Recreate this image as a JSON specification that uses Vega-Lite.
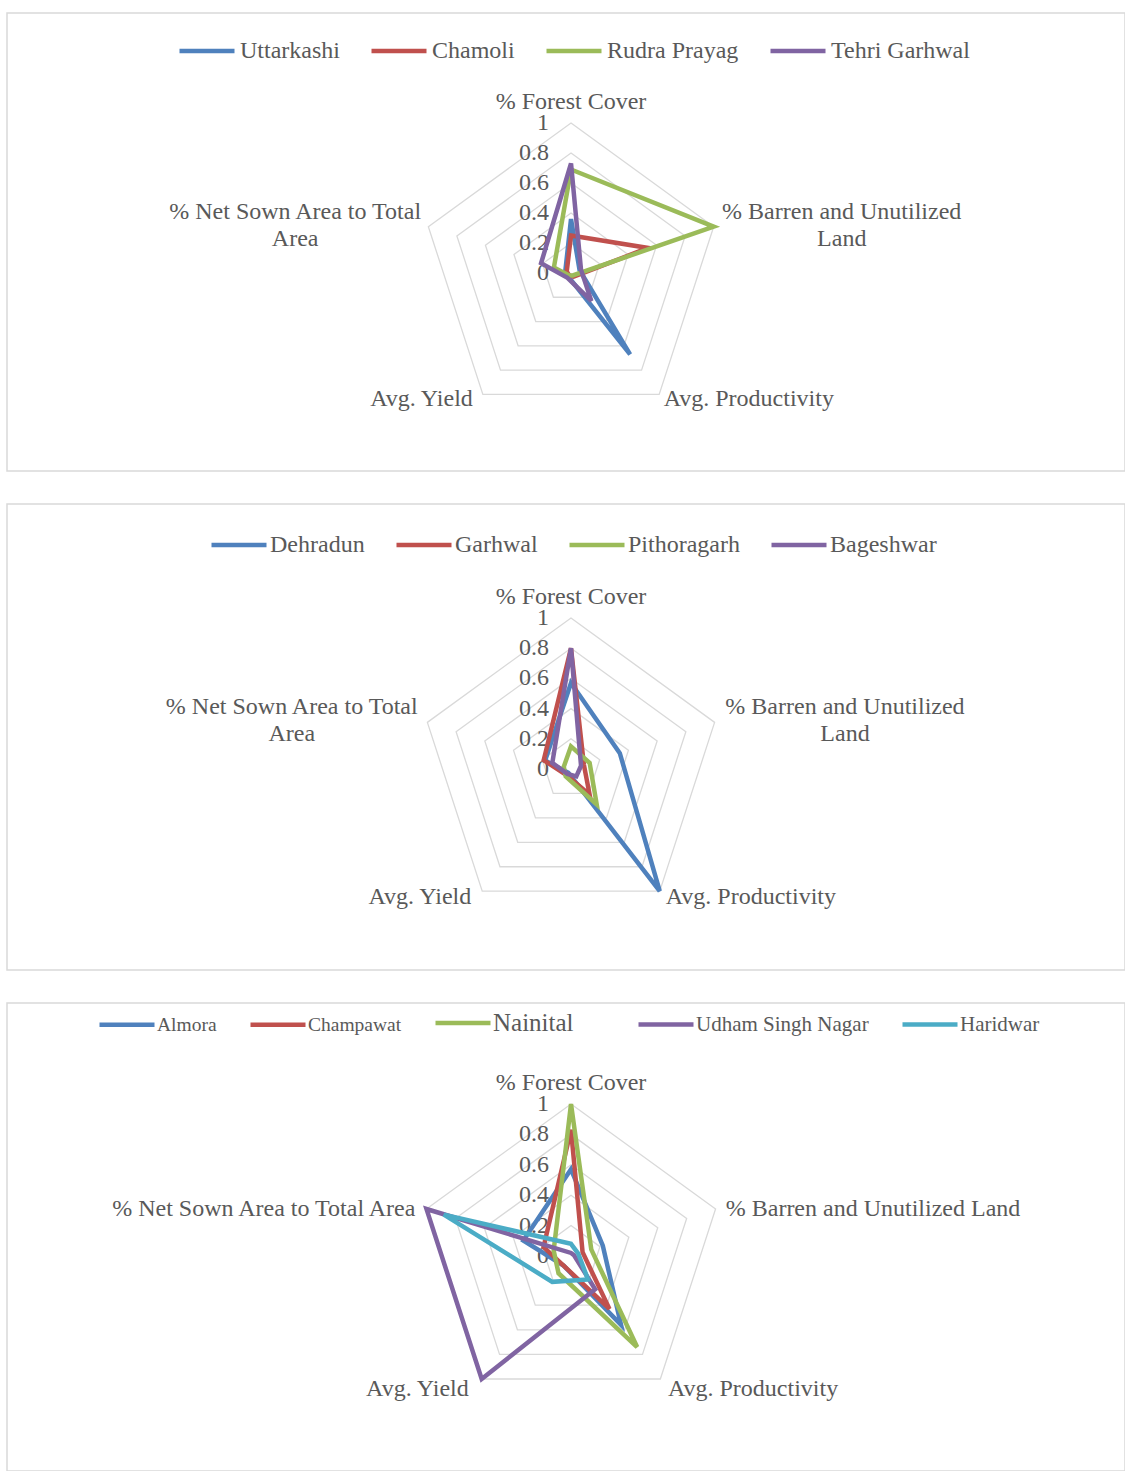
{
  "$schema": "https://vega.github.io/schema/vega-lite/v6.json",
  "padding": {"left": 6, "top": 12, "right": 0, "bottom": 0},
  "bounds": "flush",
  "config": {
    "view": {"stroke": "#d9d9d9", "strokeWidth": 1.5},
    "font": "Liberation Serif",
    "text": {"font": "Liberation Serif", "fontSize": 24, "color": "#595959", "lineHeight": 27}
  },
  "datasets": {
    "grid": [
      {"level": 0.2, "k": [0, 1, 2, 3, 4]},
      {"level": 0.4, "k": [0, 1, 2, 3, 4]},
      {"level": 0.6, "k": [0, 1, 2, 3, 4]},
      {"level": 0.8, "k": [0, 1, 2, 3, 4]},
      {"level": 1.0, "k": [0, 1, 2, 3, 4]}
    ],
    "ticks": [{"v": 0}, {"v": 0.2}, {"v": 0.4}, {"v": 0.6}, {"v": 0.8}, {"v": 1}],
    "axesTwoLine": [
      {"k": 0, "lines": ["% Forest Cover"]},
      {"k": 1, "lines": ["% Barren and Unutilized", "Land"]},
      {"k": 2, "lines": ["Avg. Productivity"]},
      {"k": 3, "lines": ["Avg. Yield"]},
      {"k": 4, "lines": ["% Net Sown Area to Total", "Area"]}
    ],
    "axesOneLine": [
      {"k": 0, "lines": ["% Forest Cover"]},
      {"k": 1, "lines": ["% Barren and Unutilized Land"]},
      {"k": 2, "lines": ["Avg. Productivity"]},
      {"k": 3, "lines": ["Avg. Yield"]},
      {"k": 4, "lines": ["% Net Sown Area to Total Area"]}
    ],
    "d1": [
      {"district": "Uttarkashi", "forest": 0.36, "barren": 0.06, "productivity": 0.67, "yield": 0.03, "netsown": 0.04},
      {"district": "Chamoli", "forest": 0.25, "barren": 0.54, "productivity": 0.03, "yield": 0.02, "netsown": 0.03},
      {"district": "Rudra Prayag", "forest": 0.69, "barren": 1.0, "productivity": 0.02, "yield": 0.02, "netsown": 0.12},
      {"district": "Tehri Garhwal", "forest": 0.73, "barren": 0.07, "productivity": 0.23, "yield": 0.04, "netsown": 0.21}
    ],
    "d2": [
      {"district": "Dehradun", "forest": 0.57, "barren": 0.34, "productivity": 1.0, "yield": 0.03, "netsown": 0.18},
      {"district": "Garhwal", "forest": 0.8, "barren": 0.09, "productivity": 0.21, "yield": 0.05, "netsown": 0.19},
      {"district": "Pithoragarh", "forest": 0.15, "barren": 0.13, "productivity": 0.29, "yield": 0.06, "netsown": 0.05},
      {"district": "Bageshwar", "forest": 0.8, "barren": 0.07, "productivity": 0.06, "yield": 0.04, "netsown": 0.13}
    ],
    "d3": [
      {"district": "Almora", "forest": 0.57, "barren": 0.22, "productivity": 0.56, "yield": 0.08, "netsown": 0.33},
      {"district": "Champawat", "forest": 0.83, "barren": 0.08, "productivity": 0.43, "yield": 0.08, "netsown": 0.19},
      {"district": "Nainital", "forest": 1.0, "barren": 0.14, "productivity": 0.74, "yield": 0.14, "netsown": 0.12},
      {"district": "Udham Singh Nagar", "forest": 0.02, "barren": 0.02, "productivity": 0.27, "yield": 1.0, "netsown": 1.0},
      {"district": "Haridwar", "forest": 0.08, "barren": 0.05, "productivity": 0.19, "yield": 0.21, "netsown": 0.88}
    ]
  },
  "vconcat": [
    {
      "width": 1118, "height": 458,
      "layer": [
        {
          "data": {"name": "grid"},
          "transform": [
            {"flatten": ["k"]},
            {"calculate": "PI/2 - datum.k*2*PI/5", "as": "a"},
            {"calculate": "datum.level*cos(datum.a)", "as": "gx"},
            {"calculate": "datum.level*sin(datum.a)", "as": "gy"}
          ],
          "mark": {"type": "line", "interpolate": "linear-closed", "stroke": "#d9d9d9", "strokeWidth": 1.3},
          "encoding": {
            "x": {"field": "gx", "type": "quantitative", "scale": {"domain": [-3.76, 3.693], "nice": false, "zero": false}, "axis": null},
            "y": {"field": "gy", "type": "quantitative", "scale": {"domain": [-1.32, 1.7333], "nice": false, "zero": false}, "axis": null},
            "detail": {"field": "level"},
            "order": {"field": "k", "type": "quantitative"}
          }
        },
        {
          "data": {"name": "ticks"},
          "mark": {"type": "text", "align": "right", "baseline": "middle", "dx": -22},
          "encoding": {
            "x": {"datum": 0, "type": "quantitative"},
            "y": {"field": "v", "type": "quantitative"},
            "text": {"field": "v", "type": "quantitative", "format": "~g"}
          }
        },
        {
          "data": {"name": "axesTwoLine"},
          "transform": [
            {"filter": "datum.k==0 || datum.k==1 || datum.k==4"},
            {"calculate": "PI/2 - datum.k*2*PI/5", "as": "a"},
            {"calculate": "datum.k==0 ? 0 : cos(datum.a) + (cos(datum.a)>0?1:-1)*(0.06 + length(datum.lines[0])*0.0345)", "as": "lx"},
            {"calculate": "datum.k==0 ? 1.14 : sin(datum.a) + (length(datum.lines)-1)*0.1", "as": "ly"}
          ],
          "mark": {"type": "text", "align": "center", "baseline": "middle"},
          "encoding": {
            "x": {"field": "lx", "type": "quantitative"},
            "y": {"field": "ly", "type": "quantitative"},
            "text": {"field": "lines"}
          }
        },
        {
          "data": {"name": "axesTwoLine"},
          "transform": [
            {"filter": "datum.k==2"},
            {"calculate": "PI/2 - datum.k*2*PI/5", "as": "a"},
            {"calculate": "cos(datum.a) + 0.03", "as": "lx"},
            {"calculate": "sin(datum.a) - 0.03", "as": "ly"}
          ],
          "mark": {"type": "text", "align": "left", "baseline": "middle"},
          "encoding": {
            "x": {"field": "lx", "type": "quantitative"},
            "y": {"field": "ly", "type": "quantitative"},
            "text": {"field": "lines"}
          }
        },
        {
          "data": {"name": "axesTwoLine"},
          "transform": [
            {"filter": "datum.k==3"},
            {"calculate": "PI/2 - datum.k*2*PI/5", "as": "a"},
            {"calculate": "cos(datum.a) - 0.067", "as": "lx"},
            {"calculate": "sin(datum.a) - 0.03", "as": "ly"}
          ],
          "mark": {"type": "text", "align": "right", "baseline": "middle"},
          "encoding": {
            "x": {"field": "lx", "type": "quantitative"},
            "y": {"field": "ly", "type": "quantitative"},
            "text": {"field": "lines"}
          }
        },
        {
          "data": {"name": "d1"},
          "transform": [
            {"fold": ["forest", "barren", "productivity", "yield", "netsown"]},
            {"calculate": "indexof(['forest','barren','productivity','yield','netsown'], datum.key)", "as": "k"},
            {"calculate": "PI/2 - datum.k*2*PI/5", "as": "a"},
            {"calculate": "datum.value*cos(datum.a)", "as": "px"},
            {"calculate": "datum.value*sin(datum.a)", "as": "py"}
          ],
          "mark": {"type": "line", "interpolate": "linear-closed", "strokeWidth": 4.5},
          "encoding": {
            "x": {"field": "px", "type": "quantitative"},
            "y": {"field": "py", "type": "quantitative"},
            "order": {"field": "k", "type": "quantitative"},
            "color": {
              "field": "district", "type": "nominal",
              "scale": {"domain": ["Uttarkashi", "Chamoli", "Rudra Prayag", "Tehri Garhwal"], "range": ["#4F81BD", "#C0504D", "#9BBB59", "#8064A2"]},
              "legend": {
                "title": null, "orient": "none", "direction": "horizontal", "legendX": 170, "legendY": 8,
                "symbolType": "stroke", "symbolSize": 3025, "symbolStrokeWidth": 4.5, "padding": 0,
                "labelFont": "Liberation Serif", "labelFontSize": 24, "labelColor": "#595959", "labelOffset": 3, "columnPadding": 22, "labelLimit": 300
              }
            }
          }
        }
      ]
    },
    {
      "width": 1118, "height": 466,
      "layer": [
        {
          "data": {"name": "grid"},
          "transform": [
            {"flatten": ["k"]},
            {"calculate": "PI/2 - datum.k*2*PI/5", "as": "a"},
            {"calculate": "datum.level*cos(datum.a)", "as": "gx"},
            {"calculate": "datum.level*sin(datum.a)", "as": "gy"}
          ],
          "mark": {"type": "line", "interpolate": "linear-closed", "stroke": "#d9d9d9", "strokeWidth": 1.3},
          "encoding": {
            "x": {"field": "gx", "type": "quantitative", "scale": {"domain": [-3.735, 3.669], "nice": false, "zero": false}, "axis": null},
            "y": {"field": "gy", "type": "quantitative", "scale": {"domain": [-1.331, 1.755], "nice": false, "zero": false}, "axis": null},
            "detail": {"field": "level"},
            "order": {"field": "k", "type": "quantitative"}
          }
        },
        {
          "data": {"name": "ticks"},
          "mark": {"type": "text", "align": "right", "baseline": "middle", "dx": -22},
          "encoding": {
            "x": {"datum": 0, "type": "quantitative"},
            "y": {"field": "v", "type": "quantitative"},
            "text": {"field": "v", "type": "quantitative", "format": "~g"}
          }
        },
        {
          "data": {"name": "axesTwoLine"},
          "transform": [
            {"filter": "datum.k==0 || datum.k==1 || datum.k==4"},
            {"calculate": "PI/2 - datum.k*2*PI/5", "as": "a"},
            {"calculate": "datum.k==0 ? 0 : cos(datum.a) + (cos(datum.a)>0?1:-1)*(0.07 + length(datum.lines[0])*0.0345)", "as": "lx"},
            {"calculate": "datum.k==0 ? 1.14 : sin(datum.a) + (length(datum.lines)-1)*0.1", "as": "ly"}
          ],
          "mark": {"type": "text", "align": "center", "baseline": "middle"},
          "encoding": {
            "x": {"field": "lx", "type": "quantitative"},
            "y": {"field": "ly", "type": "quantitative"},
            "text": {"field": "lines"}
          }
        },
        {
          "data": {"name": "axesTwoLine"},
          "transform": [
            {"filter": "datum.k==2"},
            {"calculate": "PI/2 - datum.k*2*PI/5", "as": "a"},
            {"calculate": "cos(datum.a) + 0.04", "as": "lx"},
            {"calculate": "sin(datum.a) - 0.04", "as": "ly"}
          ],
          "mark": {"type": "text", "align": "left", "baseline": "middle"},
          "encoding": {
            "x": {"field": "lx", "type": "quantitative"},
            "y": {"field": "ly", "type": "quantitative"},
            "text": {"field": "lines"}
          }
        },
        {
          "data": {"name": "axesTwoLine"},
          "transform": [
            {"filter": "datum.k==3"},
            {"calculate": "PI/2 - datum.k*2*PI/5", "as": "a"},
            {"calculate": "cos(datum.a) - 0.073", "as": "lx"},
            {"calculate": "sin(datum.a) - 0.04", "as": "ly"}
          ],
          "mark": {"type": "text", "align": "right", "baseline": "middle"},
          "encoding": {
            "x": {"field": "lx", "type": "quantitative"},
            "y": {"field": "ly", "type": "quantitative"},
            "text": {"field": "lines"}
          }
        },
        {
          "data": {"name": "d2"},
          "transform": [
            {"fold": ["forest", "barren", "productivity", "yield", "netsown"]},
            {"calculate": "indexof(['forest','barren','productivity','yield','netsown'], datum.key)", "as": "k"},
            {"calculate": "PI/2 - datum.k*2*PI/5", "as": "a"},
            {"calculate": "datum.value*cos(datum.a)", "as": "px"},
            {"calculate": "datum.value*sin(datum.a)", "as": "py"}
          ],
          "mark": {"type": "line", "interpolate": "linear-closed", "strokeWidth": 4.5},
          "encoding": {
            "x": {"field": "px", "type": "quantitative"},
            "y": {"field": "py", "type": "quantitative"},
            "order": {"field": "k", "type": "quantitative"},
            "color": {
              "field": "district", "type": "nominal",
              "scale": {"domain": ["Dehradun", "Garhwal", "Pithoragarh", "Bageshwar"], "range": ["#4F81BD", "#C0504D", "#9BBB59", "#8064A2"]},
              "legend": {
                "title": null, "orient": "none", "direction": "horizontal", "legendX": 202, "legendY": 11,
                "symbolType": "stroke", "symbolSize": 3025, "symbolStrokeWidth": 4.5, "padding": 0,
                "labelFont": "Liberation Serif", "labelFontSize": 24, "labelColor": "#595959", "labelOffset": 1, "columnPadding": 22, "labelLimit": 300
              }
            }
          }
        }
      ]
    },
    {
      "width": 1118, "height": 468,
      "layer": [
        {
          "data": {"name": "grid"},
          "transform": [
            {"flatten": ["k"]},
            {"calculate": "PI/2 - datum.k*2*PI/5", "as": "a"},
            {"calculate": "datum.level*cos(datum.a)", "as": "gx"},
            {"calculate": "datum.level*sin(datum.a)", "as": "gy"}
          ],
          "mark": {"type": "line", "interpolate": "linear-closed", "stroke": "#d9d9d9", "strokeWidth": 1.3},
          "encoding": {
            "x": {"field": "gx", "type": "quantitative", "scale": {"domain": [-3.711, 3.645], "nice": false, "zero": false}, "axis": null},
            "y": {"field": "gy", "type": "quantitative", "scale": {"domain": [-1.414, 1.664], "nice": false, "zero": false}, "axis": null},
            "detail": {"field": "level"},
            "order": {"field": "k", "type": "quantitative"}
          }
        },
        {
          "data": {"name": "ticks"},
          "mark": {"type": "text", "align": "right", "baseline": "middle", "dx": -22},
          "encoding": {
            "x": {"datum": 0, "type": "quantitative"},
            "y": {"field": "v", "type": "quantitative"},
            "text": {"field": "v", "type": "quantitative", "format": "~g"}
          }
        },
        {
          "data": {"name": "axesOneLine"},
          "transform": [
            {"filter": "datum.k==0 || datum.k==1 || datum.k==4"},
            {"calculate": "PI/2 - datum.k*2*PI/5", "as": "a"},
            {"calculate": "datum.k==0 ? 0 : cos(datum.a) + (cos(datum.a)>0?1:-1)*(0.07 + length(datum.lines[0])*0.0345)", "as": "lx"},
            {"calculate": "datum.k==0 ? 1.14 : sin(datum.a)", "as": "ly"}
          ],
          "mark": {"type": "text", "align": "center", "baseline": "middle"},
          "encoding": {
            "x": {"field": "lx", "type": "quantitative"},
            "y": {"field": "ly", "type": "quantitative"},
            "text": {"field": "lines"}
          }
        },
        {
          "data": {"name": "axesOneLine"},
          "transform": [
            {"filter": "datum.k==2"},
            {"calculate": "PI/2 - datum.k*2*PI/5", "as": "a"},
            {"calculate": "cos(datum.a) + 0.05", "as": "lx"},
            {"calculate": "sin(datum.a) - 0.066", "as": "ly"}
          ],
          "mark": {"type": "text", "align": "left", "baseline": "middle"},
          "encoding": {
            "x": {"field": "lx", "type": "quantitative"},
            "y": {"field": "ly", "type": "quantitative"},
            "text": {"field": "lines"}
          }
        },
        {
          "data": {"name": "axesOneLine"},
          "transform": [
            {"filter": "datum.k==3"},
            {"calculate": "PI/2 - datum.k*2*PI/5", "as": "a"},
            {"calculate": "cos(datum.a) - 0.085", "as": "lx"},
            {"calculate": "sin(datum.a) - 0.066", "as": "ly"}
          ],
          "mark": {"type": "text", "align": "right", "baseline": "middle"},
          "encoding": {
            "x": {"field": "lx", "type": "quantitative"},
            "y": {"field": "ly", "type": "quantitative"},
            "text": {"field": "lines"}
          }
        },
        {
          "data": {"name": "d3"},
          "transform": [
            {"fold": ["forest", "barren", "productivity", "yield", "netsown"]},
            {"calculate": "indexof(['forest','barren','productivity','yield','netsown'], datum.key)", "as": "k"},
            {"calculate": "PI/2 - datum.k*2*PI/5", "as": "a"},
            {"calculate": "datum.value*cos(datum.a)", "as": "px"},
            {"calculate": "datum.value*sin(datum.a)", "as": "py"}
          ],
          "mark": {"type": "line", "interpolate": "linear-closed", "strokeWidth": 4.5},
          "encoding": {
            "x": {"field": "px", "type": "quantitative"},
            "y": {"field": "py", "type": "quantitative"},
            "order": {"field": "k", "type": "quantitative"},
            "color": {
              "field": "district", "type": "nominal",
              "scale": {"domain": ["Almora", "Champawat", "Nainital", "Udham Singh Nagar", "Haridwar"], "range": ["#4F81BD", "#C0504D", "#9BBB59", "#8064A2", "#4BACC6"]},
              "legend": {
                "title": null, "orient": "none", "direction": "horizontal", "legendX": 90, "legendY": -10,
                "symbolType": "stroke", "symbolSize": 3025, "symbolStrokeWidth": 4.5, "padding": 0,
                "labelFont": "Liberation Serif", "labelFontSize": 21, "labelColor": "#595959", "labelOffset": 0, "columnPadding": 24,
                "labelLimit": 300,
                "labelExpr": "datum.label === 'Nainital' ? 'Nainital\u00a0\u00a0\u00a0\u00a0\u00a0\u200b' : datum.label",
                "encode": {"labels": {"update": {"fontSize": {"signal": "datum.value === 'Nainital' ? 25 : (datum.value === 'Almora' || datum.value === 'Champawat') ? 19.5 : 21"}}}}
              }
            }
          }
        }
      ]
    }
  ],
  "spacing": 33,
  "resolve": {
    "scale": {"x": "independent", "y": "independent", "color": "independent"},
    "legend": {"color": "independent"}
  }
}
